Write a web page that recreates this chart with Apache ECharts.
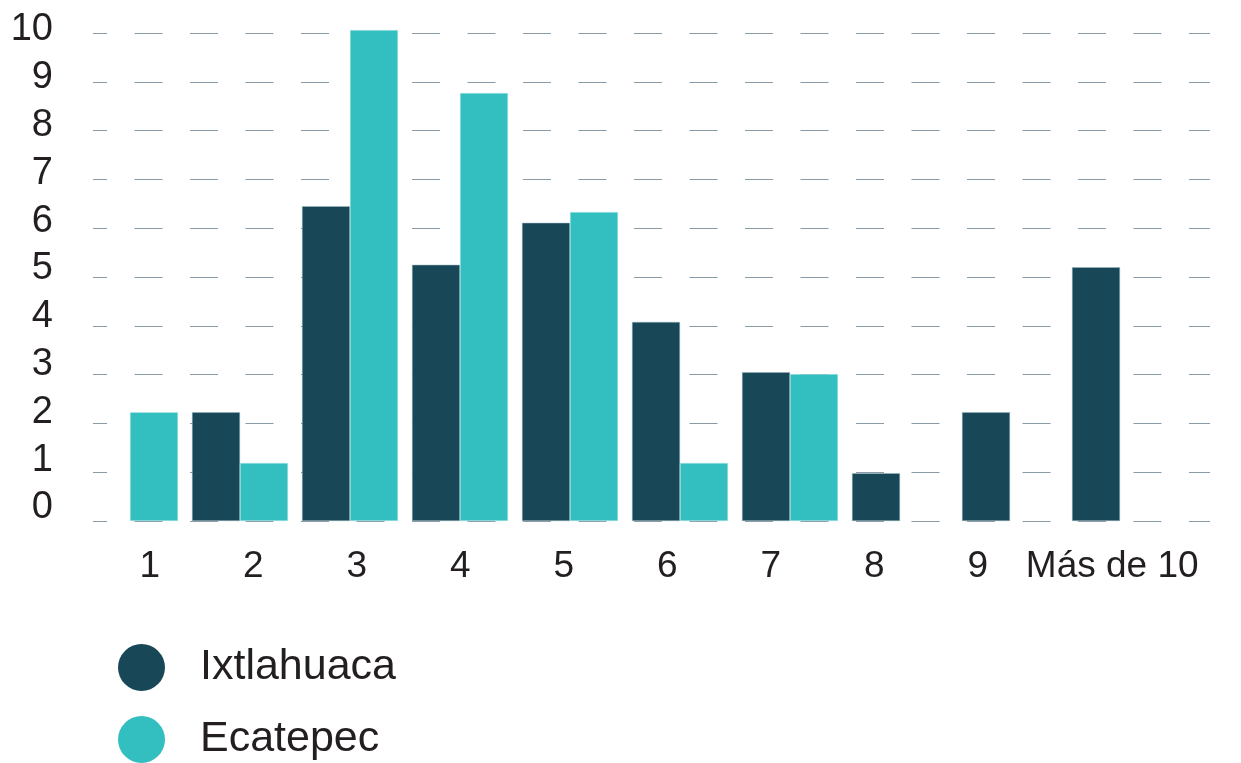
<!DOCTYPE html>
<html>
<head>
<meta charset="utf-8">
<script src="https://cdn.jsdelivr.net/npm/echarts@6/dist/echarts.min.js"></script>
<style>
  html, body { margin: 0; padding: 0; background: #fff; }
  #chart { width: 1241px; height: 763px; }
</style>
</head>
<body>
<div id="chart"></div>
<script>
// data
const categories = ["1", "2", "3", "4", "5", "6", "7", "8", "9", "Más de 10"]
const ixtlahuaca = [null, 2.23, 6.45, 5.25, 6.11, 4.08, 3.05, 0.98, 2.23, 5.2]
const ecatepec = [2.23, 1.19, 10.06, 8.77, 6.33, 1.19, 3.01, null, null, null]
const yTicks = [0, 1, 2, 3, 4, 5, 6, 7, 8, 9, 10]

const dark = "#184857"
const cyan = "#33bfbf"
const font = "Liberation Sans"

let myChart = echarts.init(document.getElementById("chart"))
myChart.setOption({
  animation: false,
  textStyle: { fontFamily: font },
  legend: {
    orient: "vertical",
    left: 118,
    top: 644,
    padding: 0,
    height: 200,
    icon: "circle",
    itemWidth: 47,
    itemHeight: 47,
    itemGap: 25,
    itemStyle: { borderWidth: 0 },
    textStyle: { fontSize: 43, color: "#231f20", padding: [0, 0, 0, 30] },
    data: ["Ixtlahuaca", "Ecatepec"],
  },
  grid: [
    // dashed lines
    { left: 93, right: 31, top: 33, bottom: 242 },
    // y labels
    { left: 93, right: 31, top: 30, bottom: 255 },
    // bars
    { left: 75, right: 66, top: 33, bottom: 242 },
    // x labels (the source spaces them a little tighter than the bars)
    { left: 98, right: 108, top: 33, bottom: 242 },
  ],
  xAxis: [
    { gridIndex: 0, type: "value", show: false },
    { gridIndex: 1, type: "value", show: false },
    {
      gridIndex: 2,
      type: "category",
      data: categories,
      axisLine: { show: false },
      axisTick: { show: false },
      axisLabel: { show: false },
    },
    {
      gridIndex: 3,
      type: "category",
      data: categories,
      axisLine: { show: false },
      axisTick: { show: false },
      axisLabel: {
        fontSize: 37,
        color: "#231f20",
        margin: 27,
        interval: 0,
        formatter: (v, i) => (i === categories.length - 1 ? "{last|" + v + "}" : v),
        rich: { last: { fontSize: 37, color: "#231f20", padding: [0, 0, 0, 62] } },
      },
    },
  ],
  yAxis: [
    {
      gridIndex: 0,
      type: "value",
      min: 0,
      max: 10,
      interval: 1,
      axisLabel: { show: false },
      axisLine: { show: false },
      axisTick: { show: false },
      splitLine: {
        lineStyle: { color: "#8a9ba8", width: 1, type: [28, 27.5], dashOffset: 14 },
      },
    },
    {
      gridIndex: 1,
      type: "value",
      min: 0,
      max: 10,
      interval: 1,
      axisLine: { show: false },
      axisTick: { show: false },
      splitLine: { show: false },
      axisLabel: {
        fontSize: 38,
        color: "#231f20",
        margin: 40,
        formatter: (v) => (yTicks.includes(v) ? String(v) : ""),
      },
    },
    { gridIndex: 2, type: "value", min: 0, max: 10, show: false },
    { gridIndex: 3, type: "value", min: 0, max: 10, show: false },
  ],
  series: [
    {
      name: "Ixtlahuaca",
      type: "bar",
      xAxisIndex: 2,
      yAxisIndex: 2,
      data: ixtlahuaca,
      barWidth: 48,
      barGap: "0%",
      clip: false,
      itemStyle: { color: dark, borderColor: "#9fb8c0", borderWidth: 0.5 },
    },
    {
      name: "Ecatepec",
      type: "bar",
      xAxisIndex: 2,
      yAxisIndex: 2,
      data: ecatepec,
      barWidth: 48,
      barGap: "0%",
      clip: false,
      itemStyle: { color: cyan, borderColor: "#bfe9e9", borderWidth: 0.5 },
    },
  ],
})

window.addEventListener("resize", () => {
  myChart.resize()
})
</script>
</body>
</html>
